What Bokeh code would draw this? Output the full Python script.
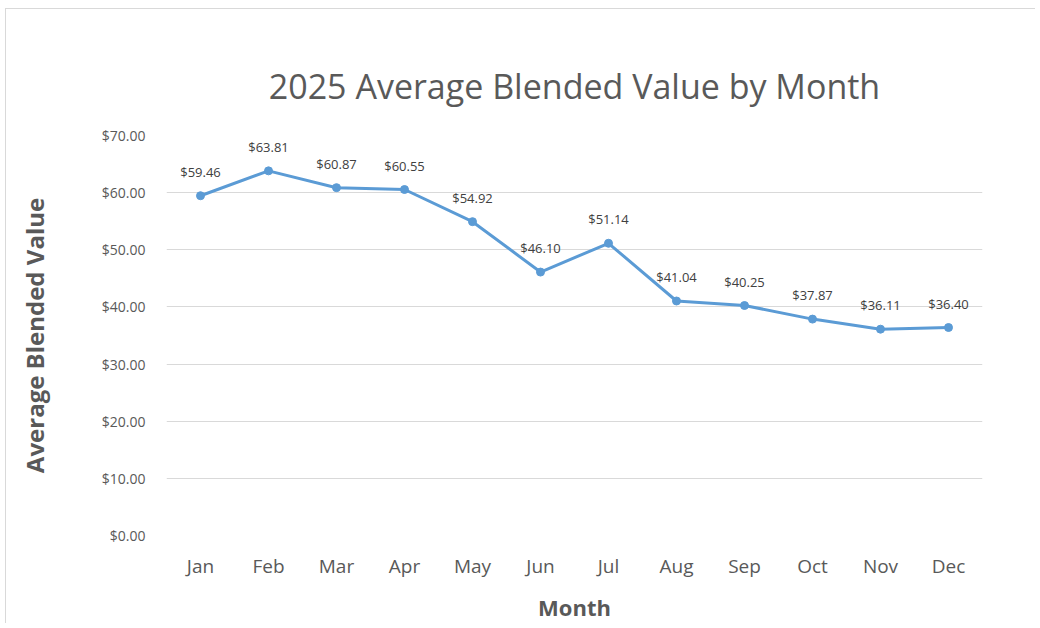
from bokeh.plotting import figure
from bokeh.models import ColumnDataSource, LabelSet, NumeralTickFormatter, SingleIntervalTicker, FactorRange
from bokeh.core.properties import value
from bokeh.embed import file_html
from bokeh.resources import INLINE

months = ["Jan", "Feb", "Mar", "Apr", "May", "Jun", "Jul", "Aug", "Sep", "Oct", "Nov", "Dec"]
values = [59.46, 63.81, 60.87, 60.55, 54.92, 46.10, 51.14, 41.04, 40.25, 37.87, 36.11, 36.40]
labels = [f"${v:.2f}" for v in values]

FONT = "Open Sans"
GRAY = "#595959"
BLUE = "#5B9BD5"

src = ColumnDataSource(dict(month=months, value=values, label=labels))

p = figure(
    x_range=FactorRange(*months, range_padding=0),
    y_range=(0, 70),
    width=1030, height=615,
    output_backend="svg", toolbar_location=None,
    title="2025 Average Blended Value by Month",
    min_border_left=160, min_border_right=54, min_border_top=126, min_border_bottom=89,
)
p.styles = {"margin-left": "5px", "margin-top": "8px",
            "border-left": "1px solid #d9d9d9", "border-top": "1px solid #d9d9d9"}

p.title.text_font = FONT
p.title.text_font_size = "34px"
p.title.text_font_style = "normal"
p.title.text_color = GRAY
p.title.align = "center"
p.title.standoff = 54
p.title.offset = 10

p.outline_line_color = None
p.xgrid.grid_line_color = None
p.ygrid.grid_line_color = "#d9d9d9"
p.ygrid.grid_line_width = 1

p.yaxis.ticker = SingleIntervalTicker(interval=10)
p.yaxis.formatter = NumeralTickFormatter(format="$0.00")
for ax in (p.xaxis, p.yaxis):
    ax.axis_line_color = None
    ax.major_tick_line_color = None
    ax.minor_tick_line_color = None
    ax.major_label_text_font = FONT
    ax.major_label_text_color = GRAY
    ax.axis_label_text_font = FONT
    ax.axis_label_text_font_style = "bold"
    ax.axis_label_text_color = GRAY

p.yaxis.major_label_text_font_size = "14px"
p.yaxis.major_label_standoff = 15
p.yaxis.axis_label = "Average Blended Value"
p.yaxis.axis_label_text_font_size = "24px"
p.yaxis.axis_label_standoff = 48

p.xaxis.major_label_text_font_size = "19px"
p.xaxis.major_label_standoff = 11
p.xaxis.axis_label = "Month"
p.xaxis.axis_label_text_font_size = "22px"
p.xaxis.axis_label_standoff = 10

p.line("month", "value", source=src, line_color=BLUE, line_width=3)
p.scatter("month", "value", source=src, size=8, fill_color=BLUE, line_color=BLUE)

ls = LabelSet(x="month", y="value", text="label", source=src, y_offset=15,
              text_align="center", text_baseline="bottom",
              text_font=value(FONT), text_font_size=value("13px"), text_color="#404040")
p.add_layout(ls)

open("out.html", "w").write(file_html(p, INLINE))
